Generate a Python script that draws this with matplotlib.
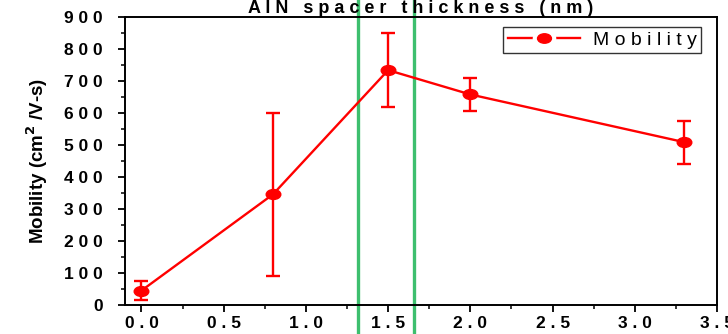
import matplotlib
matplotlib.use('Agg')
import matplotlib.pyplot as plt
from matplotlib.path import Path
from matplotlib.lines import Line2D
from matplotlib.legend_handler import HandlerTuple

# data
thickness = [0.0, 0.8, 1.5, 2.0, 3.3]
mobility = [45, 346, 734, 658, 509]
mob_err = [30, 254, 115, 53, 67]
green_marks = [1.315, 1.655]

xticks = [0.0, 0.5, 1.0, 1.5, 2.0, 2.5, 3.0, 3.5]
xlabels = ['0 . 0', '0 . 5', '1 . 0', '1 . 5', '2 . 0', '2 . 5', '3 . 0', '3 . 5']
yticks = [0, 100, 200, 300, 400, 500, 600, 700, 800, 900]
ylabels = ['0', '1 0 0', '2 0 0', '3 0 0', '4 0 0', '5 0 0', '6 0 0', '7 0 0', '8 0 0', '9 0 0']

plt.rcParams['font.family'] = ['Liberation Sans', 'DejaVu Sans']

# slightly flattened dot, like the original export
circ = Path.unit_circle()
oval = Path(circ.vertices * [1.0, 0.68], circ.codes)

fig = plt.figure(figsize=(7.28, 3.34), dpi=100)
ax = fig.add_axes([0.1717, 0.0868, 0.8133, 0.8622])

ax.errorbar(thickness, mobility, yerr=mob_err, color='#ff0000', lw=1.7,
            marker=oval, ms=10.5, capsize=4.7, capthick=1.7, elinewidth=1.7)

for gx in green_marks:
    ax.axvline(gx, ymin=-0.2, ymax=1.2, color='#3dbf6e', lw=2.4, clip_on=False)

ax.set_xlim(-0.1, 3.5)
ax.set_ylim(0, 900)
ax.set_xticks(xticks)
ax.set_xticklabels(xlabels, fontweight='bold', fontsize=12.5)
ax.set_yticks(yticks)
ax.set_yticklabels(ylabels, fontweight='bold', fontsize=12.5)
ax.set_xticks([0.25, 0.75, 1.25, 1.75, 2.25, 2.75, 3.25], minor=True)
ax.set_yticks([50, 150, 250, 350, 450, 550, 650, 750, 850], minor=True)
ax.tick_params(which='major', direction='out', length=5, width=1.3)
ax.tick_params(which='minor', direction='out', length=3, width=1.1)
ax.tick_params(axis='y', which='major', pad=11)
ax.tick_params(axis='x', which='major', pad=3)
for s in ax.spines.values():
    s.set_linewidth(1.4)

ax.set_ylabel('Mobility (cm$^{\\mathbf{2}}$ /V-s)', fontweight='bold', fontsize=13.5, labelpad=10)
fig.text(0.578, 0.962, 'A l N   s p a c e r   t h i c k n e s s   ( n m )',
         ha='center', va='baseline', fontweight='bold', fontsize=13)

# legend handle: line broken around the dot
h_line = Line2D([], [], color='#ff0000', lw=1.7, marker=oval, ms=16,
                markerfacecolor='white', markeredgecolor='white')
h_dot = Line2D([], [], color='#ff0000', ls='none', marker=oval, ms=10)
leg = ax.legend([(h_line, h_dot)], ['M o b i l i t y'],
                handler_map={tuple: HandlerTuple(ndivide=1)},
                loc='upper right', fontsize=14, frameon=True, fancybox=False,
                edgecolor='black', handlelength=3.7, handletextpad=0.7,
                borderpad=0.22, bbox_to_anchor=(0.99, 1.0))
leg.get_frame().set_linewidth(1.0)

fig.savefig('out.png', dpi=100)
